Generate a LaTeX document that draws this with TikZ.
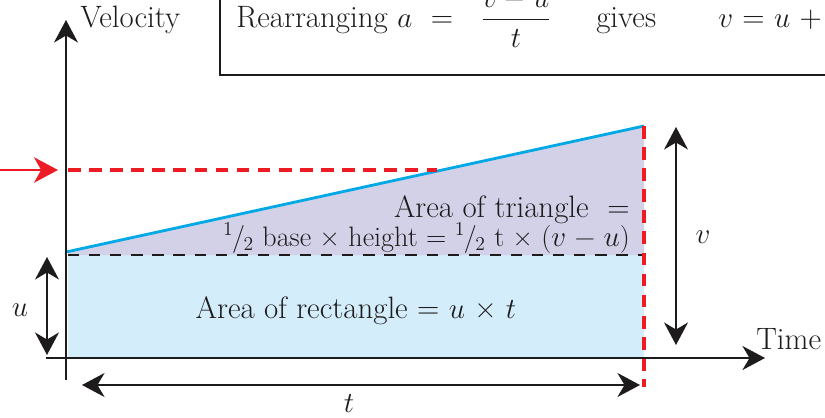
\documentclass[tikz,border=0pt]{standalone}
\usetikzlibrary{arrows.meta}
\usepackage{amsmath}
\definecolor{rectblue}{RGB}{212,237,250}
\definecolor{trililac}{RGB}{211,209,232}
\definecolor{lineblue}{RGB}{0,168,230}
\definecolor{dashred}{RGB}{237,28,36}
\definecolor{inkgrey}{RGB}{30,27,28}

\newcommand{\halfsym}{\textsuperscript{1}\kern-1pt/\kern-1pt\textsubscript{2}}

\tikzset{
  bigtip/.tip={Stealth[length=16pt,width=17pt,inset=5pt]},
  axisline/.style={draw=inkgrey, line width=2pt, -bigtip},
  dimarrow/.style={draw=inkgrey, line width=1.6pt, bigtip-bigtip},
  reddash/.style={draw=dashred, line width=2.8pt, dash pattern=on 9pt off 6pt},
  blackdash/.style={draw=inkgrey, line width=1.5pt, dash pattern=on 8pt off 7pt},
  lbl/.style={text=inkgrey, inner sep=0pt, font=\fontsize{22}{26}\selectfont}
}

\begin{document}
\begin{tikzpicture}[x=0.025cm,y=-0.025cm]
\useasboundingbox (0,0) rectangle (825,417);
\clip (0,0) rectangle (825,417);

% key points of the graph
\coordinate (O) at (66,358);
\coordinate (ybot) at (66,380);
\coordinate (ytop) at (66,20);
\coordinate (xleft) at (46,358);
\coordinate (xright) at (765,358);
\coordinate (start) at (66,252);
\coordinate (finish) at (644,126);

% areas
\fill[rectblue] (68,255) rectangle (644,357);
\fill[trililac] (68,252) -- (finish) -- (644,255) -- (68,255) -- cycle;

\draw[lineblue, line width=2pt] (start) -- (finish);
\draw[blackdash] (68,255) -- (642,255);
\draw[reddash] (finish) -- (644,387);
\draw[reddash] (68,170) -- (437,170);

% axes
\draw[axisline] (ybot) -- (ytop);
\draw[axisline] (xleft) -- (xright);
\node[lbl, anchor=west] (velocity) at (80,20) {Velocity};
\node[lbl, anchor=west] (time) at (756,339) {Time};

% marker arrow
\coordinate (mstart) at (0,170);
\coordinate (mend) at (58,170);
\draw[dashred, line width=2pt, -{Stealth[length=17pt,width=18pt,inset=5pt]}] (mstart) -- (mend);

% dimensions
\coordinate (ua) at (47,257);
\coordinate (ub) at (47,355);
\draw[dimarrow] (ua) -- (ub);
\node[lbl] (ulabel) at (20,310) {$u$};
\coordinate (va) at (676,127);
\coordinate (vb) at (676,345);
\draw[dimarrow] (va) -- (vb);
\node[lbl] (vlabel) at (703,237) {$v$};
\coordinate (ta) at (82,385);
\coordinate (tb) at (640,385);
\draw[dimarrow] (ta) -- (tb);
\node[lbl] (tlabel) at (349,404) {$t$};

% area texts
\node[lbl, anchor=base east] (tri1) at (630,217) {Area of triangle\ \ =};
\node[lbl, anchor=base east, font=\fontsize{20}{24}\selectfont] (tri2) at (630,246)
  {\halfsym\ base × height = \halfsym\ t × ($v$ − $u$)};
\node[lbl] (rect) at (356,311) {Area of rectangle = $u$ × $t$};

% formula box
\draw[inkgrey, line width=1pt] (220,-20) rectangle (860,75);
\node[lbl, anchor=base west] (rearr) at (236,27) {Rearranging $a$\ \ =};
\node[lbl, anchor=base] (frac) at (516,27) {$\dfrac{v - u}{t}$};
\node[lbl, anchor=base west] (gives) at (596,27) {gives};
\node[lbl, anchor=base west] (result) at (718,27) {$v$\ =\ $u$\ +};

\end{tikzpicture}
\end{document}
